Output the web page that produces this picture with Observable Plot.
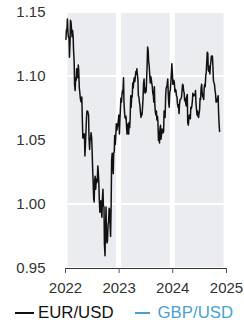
<!DOCTYPE html>
<html>
<head>
<meta charset="utf-8">
<script src="https://cdn.jsdelivr.net/npm/d3@7"></script>
<script src="https://cdn.jsdelivr.net/npm/@observablehq/plot@0.6"></script>
<style>
  html, body { margin: 0; padding: 0; background: #fff; }
  #wrap { position: relative; width: 244px; height: 322px; font-family: "Liberation Sans", Arial, sans-serif; }
  #legend { position: absolute; left: 15px; top: 302px; display: flex; align-items: center; font-size: 16.8px; height: 22px; }
  .item { display: flex; align-items: center; }
  .sw { display: inline-block; height: 2.7px; }
</style>
</head>
<body>
<div id="wrap"><div id="chart"></div><div id="legend"></div></div>
<script>
// Series names and colours
const seriesNames = ["EUR/USD", "GBP/USD"];
const seriesColors = ["#111111", "#4a9fd0"];

// EUR/USD, two readings per week, weeks starting on these Mondays
const weekStart2022 = "2022-01-03";
const eur2022 = [
  1.129,1.136, 1.137,1.145, 1.134,1.131, 1.130,1.115, 1.127,1.144,
  1.142,1.137, 1.131,1.136, 1.131,1.120, 1.112,1.093, 1.089,1.099,
  1.097,1.106, 1.102,1.099, 1.109,1.105, 1.091,1.088, 1.083,1.081,
  1.080,1.084, 1.065,1.052, 1.052,1.055, 1.055,1.038, 1.047,1.056,
  1.068,1.073, 1.073,1.072, 1.070,1.052, 1.043,1.050, 1.052,1.056,
  1.052,1.043, 1.027,1.018, 1.004,1.002, 1.019,1.022, 1.012,1.020,
  1.017,1.018, 1.030,1.026, 1.017,1.004, 0.994,0.997, 1.003,0.995,
  0.990,1.004, 1.012,0.999, 0.998,0.969, 0.960,0.980, 0.998,0.974,
  0.970,0.972, 0.985,0.986, 0.997,0.996, 0.982,0.975, 1.002,1.035,
  1.040,1.032, 1.024,1.040, 1.041,1.054, 1.047,1.053, 1.063,1.058,
  1.060,1.062, 1.066,1.070
];
const weekStart2023 = "2023-01-02";
const eur2023 = [
  1.055,1.065, 1.075,1.083, 1.080,1.085, 1.089,1.087, 1.099,1.080,
  1.072,1.068, 1.067,1.069, 1.060,1.055, 1.060,1.063, 1.055,1.064,
  1.060,1.067, 1.085,1.076, 1.085,1.084, 1.095,1.091, 1.097,1.099,
  1.096,1.099, 1.104,1.102, 1.106,1.102, 1.098,1.085, 1.084,1.080,
  1.077,1.072, 1.068,1.071, 1.070,1.075, 1.083,1.094, 1.098,1.089,
  1.087,1.091, 1.088,1.097, 1.110,1.123, 1.120,1.112, 1.108,1.102,
  1.095,1.100, 1.098,1.095, 1.092,1.087, 1.085,1.080, 1.092,1.078,
  1.072,1.070, 1.073,1.066, 1.069,1.065, 1.050,1.057, 1.048,1.059,
  1.062,1.051, 1.055,1.059, 1.057,1.056, 1.057,1.073, 1.068,1.068,
  1.085,1.091, 1.092,1.094, 1.098,1.088, 1.079,1.076, 1.088,1.089,
  1.095,1.101, 1.110,1.104
];
const weekStart2024 = "2024-01-01";
const eur2024 = [
  1.094,1.094, 1.097,1.095, 1.088,1.090, 1.089,1.085, 1.084,1.079,
  1.076,1.078, 1.071,1.078, 1.082,1.082, 1.083,1.084, 1.090,1.094,
  1.093,1.089, 1.087,1.081, 1.083,1.079, 1.077,1.084, 1.086,1.064,
  1.062,1.066, 1.070,1.069, 1.067,1.076, 1.075,1.077, 1.081,1.087,
  1.085,1.085, 1.086,1.085, 1.089,1.080, 1.074,1.070, 1.073,1.069,
  1.068,1.071, 1.074,1.083, 1.082,1.091, 1.094,1.088, 1.084,1.086,
  1.082,1.091, 1.094,1.092, 1.101,1.103, 1.112,1.119, 1.118,1.105,
  1.104,1.108, 1.102,1.108, 1.112,1.116, 1.113,1.116, 1.107,1.097,
  1.095,1.094, 1.089,1.087, 1.080,1.080, 1.082,1.083, 1.085,1.072,
  1.062,1.057
];

// Axis ticks
const yTicks = [0.95, 1.00, 1.05, 1.10, 1.15];
const xTickYears = [2022, 2023, 2024, 2025];
// Background panel cells (years x value bands)
const panelYears = [2022, 2023, 2024];
const panelBands = [[0.95, 1.00], [1.00, 1.10], [1.10, 1.15]];

function toRows(start, vals) {
  const s = new Date(start + "T00:00:00Z");
  return vals.map((v, i) => {
    const wk = Math.floor(i / 2);
    const dayOff = wk * 7 + (i % 2 === 0 ? 1 : 4);
    return { date: d3.utcDay.offset(s, dayOff), value: v };
  });
}
const eur = [
  ...toRows(weekStart2022, eur2022),
  ...toRows(weekStart2023, eur2023),
  ...toRows(weekStart2024, eur2024)
];

const cells = [];
for (const yr of panelYears) for (const [lo, hi] of panelBands)
  cells.push({ x1: new Date(Date.UTC(yr, 0, 1)), x2: new Date(Date.UTC(yr + 1, 0, 1)), y1: lo, y2: hi });

const chart = Plot.plot({
  width: 244,
  height: 300,
  marginLeft: 65,
  marginRight: 18,
  marginTop: 12,
  marginBottom: 32,
  style: { fontFamily: "Liberation Sans, Arial, sans-serif", fontSize: "15px", color: "#333", background: "#fff" },
  x: { type: "utc", domain: [new Date(Date.UTC(2022, 0, 1)), new Date(Date.UTC(2025, 0, 1))] },
  y: { domain: [0.95, 1.15] },
  marks: [
    Plot.rect(cells, { x1: "x1", x2: "x2", y1: "y1", y2: "y2", fill: "#ebecf0", insetLeft: 2.5, insetRight: 2.5, insetTop: 1, insetBottom: 1 }),
    Plot.ruleY([0.95], { stroke: "#333", strokeWidth: 1 }),
    Plot.axisX(xTickYears.map(y => new Date(Date.UTC(y, 0, 1))), { tickFormat: d3.utcFormat("%Y"), tickSize: 5, tickPadding: 9, stroke: "#555", label: null }),
    Plot.axisY(yTicks, { tickFormat: d3.format(".2f"), tickSize: 0, tickPadding: 20, label: null }),
    Plot.line(eur, { x: "date", y: "value", stroke: seriesColors[0], strokeWidth: 1.5 })
  ]
});
document.getElementById("chart").appendChild(chart);

const legend = document.getElementById("legend");
const swW = [19, 15];
const gaps = [4, 8];
seriesNames.forEach((name, i) => {
  const it = document.createElement("span");
  it.className = "item";
  if (i > 0) it.style.marginLeft = "21px";
  const sw = document.createElement("span");
  sw.className = "sw";
  sw.style.width = swW[i] + "px";
  sw.style.background = seriesColors[i];
  sw.style.marginRight = gaps[i] + "px";
  const t = document.createElement("span");
  t.textContent = name;
  t.style.color = i === 0 ? "#111" : seriesColors[i];
  it.appendChild(sw); it.appendChild(t);
  legend.appendChild(it);
});
</script>
</body>
</html>
